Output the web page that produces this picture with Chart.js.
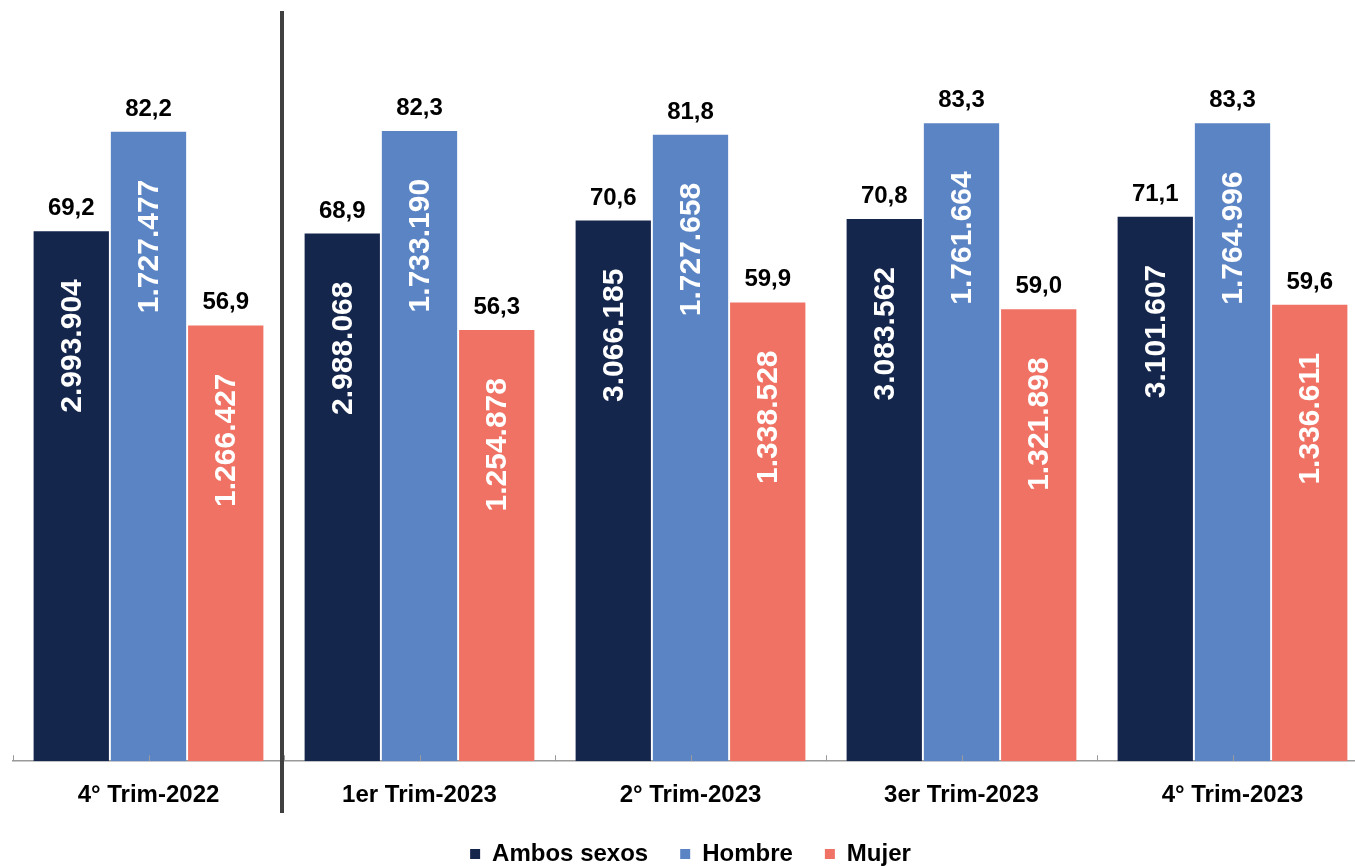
<!DOCTYPE html>
<html>
<head>
<meta charset="utf-8">
<script src="https://cdn.jsdelivr.net/npm/chart.js@4.4.0/dist/chart.umd.min.js"></script>
<style>
  html, body { margin: 0; padding: 0; background: #fff; overflow: hidden; }
  #wrap { width: 1355px; height: 867px; overflow: hidden; position: relative; }
  canvas { display: block; }
</style>
</head>
<body>
<div id="wrap"><canvas id="chart" width="1390" height="876"></canvas></div>
<script>
const categories = ['4° Trim-2022', '1er Trim-2023', '2° Trim-2023', '3er Trim-2023', '4° Trim-2023'];

// tasa (%) -> altura de la barra
const ambosTasa  = [69.2, 68.9, 70.6, 70.8, 71.1];
const hombreTasa = [82.2, 82.3, 81.8, 83.3, 83.3];
const mujerTasa  = [56.9, 56.3, 59.9, 59.0, 59.6];

// ocupados -> etiqueta dentro de la barra
const ambosOcupados  = [2993904, 2988068, 3066185, 3083562, 3101607];
const hombreOcupados = [1727477, 1733190, 1727658, 1761664, 1764996];
const mujerOcupados  = [1266427, 1254878, 1338528, 1321898, 1336611];

const FONT = '"Liberation Sans", Arial, Helvetica, sans-serif';

const fmtTasa = v => v.toFixed(1).replace('.', ',');
const fmtMiles = v => String(v).replace(/\B(?=(\d{3})+(?!\d))/g, '.');

// etiquetas: tasa arriba, ocupados girado dentro
const barLabels = {
  id: 'barLabels',
  afterDatasetsDraw(chart) {
    const ctx = chart.ctx;
    chart.data.datasets.forEach((ds, i) => {
      const meta = chart.getDatasetMeta(i);
      meta.data.forEach((bar, j) => {
        ctx.save();
        ctx.fillStyle = '#000';
        ctx.font = 'bold 24px ' + FONT;
        ctx.textAlign = 'center';
        ctx.textBaseline = 'alphabetic';
        ctx.fillText(fmtTasa(ds.data[j]), bar.x, bar.y - 16);

        ctx.translate(bar.x, bar.y + 48);
        ctx.rotate(-Math.PI / 2);
        ctx.fillStyle = '#fff';
        ctx.font = 'bold 30px ' + FONT;
        ctx.textAlign = 'right';
        ctx.textBaseline = 'middle';
        ctx.fillText(fmtMiles(ds.ocupados[j]), 0, 1);
        ctx.restore();
      });
    });
  }
};

// marcas del eje hacia dentro + linea separadora
const axisExtras = {
  id: 'axisExtras',
  afterDraw(chart) {
    const ctx = chart.ctx;
    const x = chart.scales.x;
    const bottom = chart.chartArea.bottom;
    const step = x.getPixelForValue(1) - x.getPixelForValue(0);
    ctx.save();
    ctx.strokeStyle = '#9a9a9a';
    ctx.lineWidth = 1;
    for (let i = 0; i <= categories.length * 2; i++) {
      const px = Math.round(x.getPixelForValue(0) - step / 2 + i * step / 2) + 0.5;
      ctx.beginPath();
      ctx.moveTo(px, bottom);
      ctx.lineTo(px, bottom - 6);
      ctx.stroke();
    }
    const sep = (x.getPixelForValue(0) + x.getPixelForValue(1)) / 2 - 2;
    ctx.strokeStyle = '#404040';
    ctx.lineWidth = 4;
    ctx.beginPath();
    ctx.moveTo(sep, 11);
    ctx.lineTo(sep, 813);
    ctx.stroke();
    ctx.restore();
  }
};

new Chart(document.getElementById('chart'), {
  type: 'bar',
  data: {
    labels: categories,
    datasets: [
      { label: 'Ambos sexos', data: ambosTasa, ocupados: ambosOcupados, backgroundColor: '#15264d' },
      { label: 'Hombre', data: hombreTasa, ocupados: hombreOcupados, backgroundColor: '#5b84c4' },
      { label: 'Mujer', data: mujerTasa, ocupados: mujerOcupados, backgroundColor: '#ef7264' }
    ]
  },
  options: {
    responsive: false,
    animation: false,
    devicePixelRatio: 1,
    layout: { padding: { left: 13, right: 22, top: 26, bottom: 0 } },
    datasets: {
      bar: { categoryPercentage: 0.855, barPercentage: 0.975, borderWidth: 0 }
    },
    scales: {
      x: {
        grid: { display: false, drawTicks: false },
        border: { display: true, color: '#9a9a9a', width: 1.5 },
        ticks: {
          color: '#000',
          padding: 20,
          maxRotation: 0,
          autoSkip: false,
          font: { family: FONT, size: 24, weight: 'bold' }
        }
      },
      y: { display: false, min: 0, max: 96 }
    },
    plugins: {
      legend: {
        position: 'bottom',
        labels: {
          boxWidth: 10,
          boxHeight: 10,
          padding: 12,
          color: '#000',
          font: { family: FONT, size: 24, weight: 'bold' },
          generateLabels(chart) {
            const items = Chart.defaults.plugins.legend.labels.generateLabels(chart);
            // un poco más de aire entre elementos
            items.forEach((it, k) => { if (k < items.length - 1) it.text += '   '; });
            return items;
          }
        }
      },
      tooltip: { enabled: false }
    }
  },
  plugins: [barLabels, axisExtras]
});
</script>
</body>
</html>
